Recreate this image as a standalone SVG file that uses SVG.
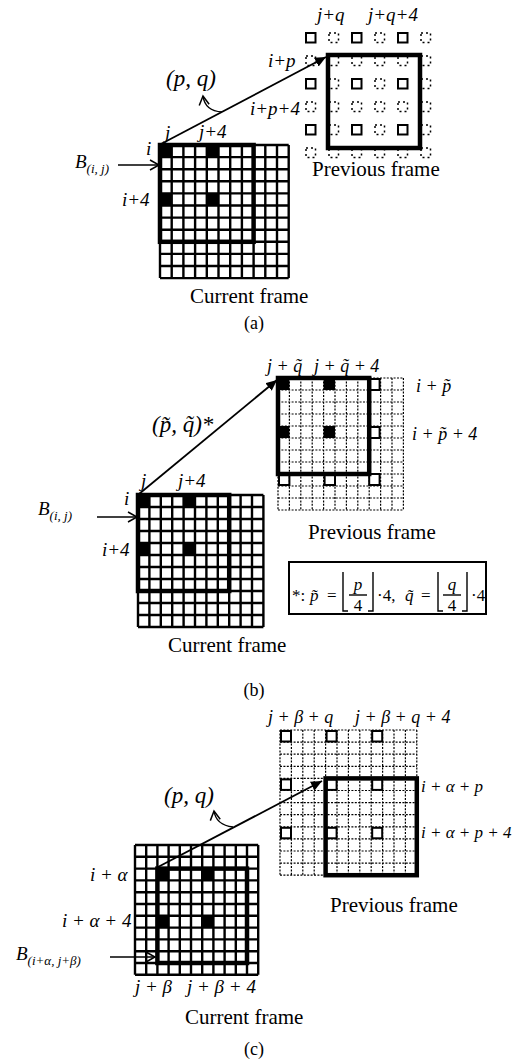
<svg xmlns="http://www.w3.org/2000/svg" xmlns:xlink="http://www.w3.org/1999/xlink" width="519" height="1063" viewBox="0 0 519 1063">
<style>
.t{font-family:"Liberation Serif",serif;font-style:italic;font-size:19px;fill:#000}
.s18{font-size:18px}
.s17{font-size:17px}
.s23{font-size:23px}
.up{font-style:normal}
.mid{text-anchor:middle}
.r{font-family:"Liberation Serif",serif;font-size:21px;fill:#000}
.cap{font-family:"Liberation Serif",serif;font-size:18px;fill:#000;text-anchor:middle}
.sub{font-size:13px}
.cg{fill:none;stroke:#000;stroke-width:2.4}
.pg{fill:none;stroke:#000;stroke-width:1.2;stroke-dasharray:2 1.4}
.bold{fill:none;stroke:#000;stroke-width:4.5}
.blk{fill:#000}
.sq{fill:none;stroke:#000;stroke-width:2}
.dsq{fill:none;stroke:#000;stroke-width:1.5;stroke-dasharray:2 3}
.mv{fill:none;stroke:#000;stroke-width:1.8}
.thin{fill:none;stroke:#000;stroke-width:1.4}
</style>
<defs>
<marker id="tri" markerUnits="userSpaceOnUse" markerWidth="12" markerHeight="10" refX="11" refY="5" orient="auto"><path d="M0,0 L11,5 L0,10 Z" fill="#000"/></marker>
<marker id="open" markerUnits="userSpaceOnUse" markerWidth="12" markerHeight="12" refX="10" refY="6" orient="auto"><path d="M1,1 L10,6 L1,11" fill="none" stroke="#000" stroke-width="1.5"/></marker>
<rect id="ds" x="1" y="1" width="9.5" height="9.5" class="dsq"/>
<rect id="ss" x="1" y="1" width="9.5" height="9.5" class="sq"/>
</defs>
<rect width="519" height="1063" fill="#fff"/>

<!-- ===== Panel (a) ===== -->
<g id="a-current">
<path class="cg" stroke-width="3" d="M160 145V278.1M171.7 145V278.1M183.4 145V278.1M195.1 145V278.1M206.8 145V278.1M218.5 145V278.1M230.2 145V278.1M241.9 145V278.1M253.6 145V278.1M265.3 145V278.1M277 145V278.1M288.7 145V278.1M160 145H288.7M160 157.1H288.7M160 169.2H288.7M160 181.3H288.7M160 193.4H288.7M160 205.5H288.7M160 217.6H288.7M160 229.7H288.7M160 241.8H288.7M160 253.9H288.7M160 266H288.7M160 278.1H288.7"/>
<rect class="blk" x="160" y="145" width="11.7" height="12.1"/>
<rect class="blk" x="206.8" y="145" width="11.7" height="12.1"/>
<rect class="blk" x="160" y="193.4" width="11.7" height="12.1"/>
<rect class="blk" x="206.8" y="193.4" width="11.7" height="12.1"/>
<rect class="bold" x="160" y="145" width="93.6" height="96.8"/>
<text class="r" x="190" y="303">Current frame</text>
</g>
<g id="a-previous">
<use href="#ss" x="305" y="32"/><use href="#ss" x="351" y="32"/><use href="#ss" x="397" y="32"/>
<use href="#ss" x="305" y="78"/><use href="#ss" x="351" y="78"/><use href="#ss" x="397" y="78"/>
<use href="#ss" x="305" y="124"/><use href="#ss" x="351" y="124"/><use href="#ss" x="397" y="124"/>
<use href="#ds" x="328" y="32"/><use href="#ds" x="374" y="32"/><use href="#ds" x="420" y="32"/>
<use href="#ds" x="305" y="55"/><use href="#ds" x="328" y="55"/><use href="#ds" x="351" y="55"/><use href="#ds" x="374" y="55"/><use href="#ds" x="397" y="55"/><use href="#ds" x="420" y="55"/>
<use href="#ds" x="328" y="78"/><use href="#ds" x="374" y="78"/><use href="#ds" x="420" y="78"/>
<use href="#ds" x="305" y="101"/><use href="#ds" x="328" y="101"/><use href="#ds" x="351" y="101"/><use href="#ds" x="374" y="101"/><use href="#ds" x="397" y="101"/><use href="#ds" x="420" y="101"/>
<use href="#ds" x="328" y="124"/><use href="#ds" x="374" y="124"/><use href="#ds" x="420" y="124"/>
<use href="#ds" x="305" y="147"/><use href="#ds" x="328" y="147"/><use href="#ds" x="351" y="147"/><use href="#ds" x="374" y="147"/><use href="#ds" x="397" y="147"/><use href="#ds" x="420" y="147"/>
<rect class="bold" x="328" y="55" width="92" height="93"/>
<text class="r" x="312" y="176">Previous frame</text>
</g>
<g id="a-labels">
<text class="t" x="317" y="21">j+q</text>
<text class="t" x="368" y="21">j+q+4</text>
<text class="t" x="268" y="67">i+p</text>
<text class="t" x="250" y="115">i+p+4</text>
<text class="t s23" x="166" y="86">(p, q)</text>
<text class="t" x="146" y="155">i</text>
<text class="t" x="165" y="139">j</text>
<text class="t" x="199" y="138">j+4</text>
<text class="t" x="75" y="168">B<tspan class="sub" dy="5">(i, j)</tspan></text>
<text class="t" x="122" y="206">i+4</text>
<text class="cap" x="254" y="329">(a)</text>
</g>

<!-- ===== Panel (b) ===== -->
<g id="b-current">
<path class="cg" d="M138 495V627M149.4 495V627M160.8 495V627M172.2 495V627M183.6 495V627M195 495V627M206.4 495V627M217.8 495V627M229.2 495V627M240.6 495V627M252 495V627M263.4 495V627M138 495H263.4M138 507H263.4M138 519H263.4M138 531H263.4M138 543H263.4M138 555H263.4M138 567H263.4M138 579H263.4M138 591H263.4M138 603H263.4M138 615H263.4M138 627H263.4"/>
<rect class="blk" x="138" y="495" width="11.4" height="12"/>
<rect class="blk" x="183.6" y="495" width="11.4" height="12"/>
<rect class="blk" x="138" y="543" width="11.4" height="12"/>
<rect class="blk" x="183.6" y="543" width="11.4" height="12"/>
<rect class="bold" x="138" y="495" width="91.2" height="96"/>
<text class="r" x="168" y="652">Current frame</text>
</g>
<g id="b-previous">
<path class="pg" d="M278 378V510M289.4 378V510M300.8 378V510M312.2 378V510M323.6 378V510M335 378V510M346.4 378V510M357.8 378V510M369.2 378V510M380.6 378V510M392 378V510M403.4 378V510M278 378H403.4M278 390H403.4M278 402H403.4M278 414H403.4M278 426H403.4M278 438H403.4M278 450H403.4M278 462H403.4M278 474H403.4M278 486H403.4M278 498H403.4M278 510H403.4"/>
<rect class="blk" x="278" y="378" width="11.4" height="12"/>
<rect class="blk" x="323.6" y="378" width="11.4" height="12"/>
<rect class="blk" x="278" y="426" width="11.4" height="12"/>
<rect class="blk" x="323.6" y="426" width="11.4" height="12"/>
<rect class="sq" x="369.2" y="379" width="10.4" height="11"/>
<rect class="sq" x="369.2" y="427" width="10.4" height="11"/>
<rect class="sq" x="279" y="474" width="10.4" height="11"/>
<rect class="sq" x="324.6" y="474" width="10.4" height="11"/>
<rect class="sq" x="369.2" y="474" width="10.4" height="11"/>
<rect class="bold" x="278" y="378" width="91.2" height="96"/>
<text class="r" x="308" y="539">Previous frame</text>
</g>
<g id="b-labels">
<text class="t s18" x="267" y="372">j + q&#x303;</text>
<text class="t s18" x="314" y="372">j + q&#x303; + 4</text>
<text class="t s18" x="416" y="392">i + p&#x303;</text>
<text class="t s18" x="412" y="440">i + p&#x303; + 4</text>
<text class="t s23" x="152" y="432">(p&#x303;, q&#x303;)*</text>
<text class="t" x="124" y="505">i</text>
<text class="t" x="141" y="487">j</text>
<text class="t" x="178" y="487">j+4</text>
<text class="t" x="38" y="515">B<tspan class="sub" dy="5">(i, j)</tspan></text>
<text class="t" x="102" y="556">i+4</text>
<text class="cap" x="254" y="696">(b)</text>
</g>
<g id="b-formula">
<rect x="289" y="562" width="197" height="52" fill="none" stroke="#000" stroke-width="2"/>
<text class="t s17 up" x="292" y="601">*:</text>
<text class="t s17" x="310" y="601">p&#x303;</text>
<text class="t s17 up" x="327" y="601">=</text>
<path class="thin" d="M343 572V611H348M373 572V611H368"/>
<text class="t s17 mid" x="358" y="590">p</text>
<path class="thin" d="M349 595H367"/>
<text class="t s17 up mid" x="358" y="611">4</text>
<text class="t s17 up" x="377" y="601">·4,</text>
<text class="t s17" x="405" y="601">q&#x303;</text>
<text class="t s17 up" x="421" y="601">=</text>
<path class="thin" d="M438 572V611H443M467 572V611H462"/>
<text class="t s17 mid" x="452" y="590">q</text>
<path class="thin" d="M443 595H461"/>
<text class="t s17 up mid" x="452" y="611">4</text>
<text class="t s17 up" x="471" y="601">·4</text>
</g>

<!-- ===== Panel (c) ===== -->
<g id="c-current">
<path class="cg" stroke-width="2" d="M135 845V974.8M146.2 845V974.8M157.4 845V974.8M168.6 845V974.8M179.8 845V974.8M191 845V974.8M202.2 845V974.8M213.4 845V974.8M224.6 845V974.8M235.8 845V974.8M247 845V974.8M258.2 845V974.8M135 845H258.2M135 856.8H258.2M135 868.6H258.2M135 880.4H258.2M135 892.2H258.2M135 904H258.2M135 915.8H258.2M135 927.6H258.2M135 939.4H258.2M135 951.2H258.2M135 963H258.2M135 974.8H258.2"/>
<rect class="blk" x="157.4" y="868.6" width="11.2" height="11.8"/>
<rect class="blk" x="202.2" y="868.6" width="11.2" height="11.8"/>
<rect class="blk" x="157.4" y="915.8" width="11.2" height="11.8"/>
<rect class="blk" x="202.2" y="915.8" width="11.2" height="11.8"/>
<rect class="bold" x="157.4" y="868.6" width="89.6" height="94.4"/>
<text class="r" x="185" y="1024">Current frame</text>
</g>
<g id="c-previous">
<path class="pg" d="M280 730V875.2M291.4 730V875.2M302.8 730V875.2M314.2 730V875.2M325.6 730V875.2M337 730V875.2M348.4 730V875.2M359.8 730V875.2M371.2 730V875.2M382.6 730V875.2M394 730V875.2M405.4 730V875.2M416.8 730V875.2M280 730H416.8M280 742.1H416.8M280 754.2H416.8M280 766.3H416.8M280 778.4H416.8M280 790.5H416.8M280 802.6H416.8M280 814.7H416.8M280 826.8H416.8M280 838.9H416.8M280 851H416.8M280 863.1H416.8M280 875.2H416.8"/>
<rect class="sq" x="281" y="731" width="10" height="10.5"/><rect class="sq" x="326.6" y="731" width="10" height="10.5"/><rect class="sq" x="372.2" y="731" width="10" height="10.5"/>
<rect class="sq" x="281" y="779.4" width="10" height="10.5"/><rect class="sq" x="326.6" y="779.4" width="10" height="10.5"/><rect class="sq" x="372.2" y="779.4" width="10" height="10.5"/>
<rect class="sq" x="281" y="827.8" width="10" height="10.5"/><rect class="sq" x="326.6" y="827.8" width="10" height="10.5"/><rect class="sq" x="372.2" y="827.8" width="10" height="10.5"/>
<rect class="bold" x="325.6" y="778.4" width="91.2" height="96.8"/>
<text class="r" x="330" y="912">Previous frame</text>
</g>
<g id="c-labels">
<text class="t s18" x="268" y="723">j + β + q</text>
<text class="t s18" x="355" y="723">j + β + q + 4</text>
<text class="t s17" x="421" y="792">i + α + p</text>
<text class="t s17" x="421" y="838">i + α + p + 4</text>
<text class="t s23" x="164" y="803">(p, q)</text>
<text class="t" x="90" y="881">i + α</text>
<text class="t" x="62" y="927">i + α + 4</text>
<text class="t" x="16" y="960">B<tspan class="sub" dy="5">(i+α, j+β)</tspan></text>
<text class="t" x="135" y="993">j + β</text>
<text class="t" x="187" y="993">j + β + 4</text>
<text class="cap" x="254" y="1055">(c)</text>
</g>

<g id="connectors">
<line class="mv" x1="161" y1="144" x2="326" y2="57" marker-end="url(#tri)"/>
<path class="thin" d="M222 112Q205 111 203 96" marker-end="url(#open)"/>
<line class="thin" x1="118" y1="165" x2="159" y2="165" marker-end="url(#open)"/>
<line class="mv" x1="139" y1="494" x2="277" y2="380" marker-end="url(#tri)"/>
<line class="thin" x1="97" y1="517" x2="137" y2="517" marker-end="url(#open)"/>
<line class="mv" x1="158" y1="867" x2="322" y2="781" marker-end="url(#tri)"/>
<path class="thin" d="M233 827Q216 825 214 811" marker-end="url(#open)"/>
<line class="thin" x1="110" y1="957" x2="155" y2="957" marker-end="url(#open)"/>
</g>
</svg>
